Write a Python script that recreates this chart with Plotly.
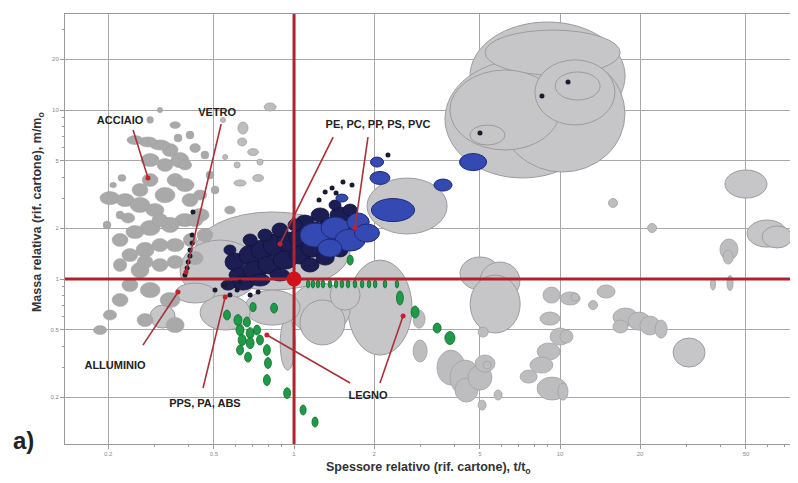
import plotly.graph_objects as go

# ---------------- DATA (log10 of relative thickness / relative mass) ----------------
# large gray property envelopes: centre log t, centre log m, width (decades), height (decades)
big_lt = [0.953, 0.859, 1.009, 0.972, 0.793, 1.056, 1.066, 0.727, 0.425, -0.081, -0.278,
          0.323, 0.098, 0.107, -0.024, -0.081, 0.192, -0.259, -0.494, -0.372,
          0.699, 0.774, 0.756, 1.699, 1.778, 1.816, 1.485]
big_lm = [1.201, 0.947, 0.979, 1.340, 1.000, 1.104, 1.142, 0.852, 0.432, 0.166, 0.053,
          -0.169, -0.178, -0.257, -0.382, -0.169, -0.095, -0.198, -0.222, -0.083,
          0.033, -0.012, -0.148, 0.562, 0.269, 0.249, -0.435]
big_wt = [0.583, 0.583, 0.470, 0.508, 0.414, 0.301, 0.169, 0.132, 0.301, 0.583, 0.301,
          0.241, 0.226, 0.169, 0.056, 0.207, 0.113, 0.188, 0.094, 0.150,
          0.150, 0.150, 0.188, 0.158, 0.150, 0.113, 0.120]
big_wm = [0.639, 0.698, 0.692, 0.266, 0.473, 0.385, 0.166, 0.118, 0.331, 0.462, 0.355,
          0.562, 0.308, 0.266, 0.314, 0.207, 0.178, 0.207, 0.136, 0.118,
          0.195, 0.225, 0.343, 0.166, 0.160, 0.130, 0.172]

# smaller gray envelopes
sm_lt = [0.470, 0.474, 0.590, 0.643, 0.648, 0.699, 0.718, 0.711, 0.726, 0.767, 0.707,
         0.962, 1.000, 0.957, 0.930, 0.882, 0.970, 0.968, 1.038, 1.056, 1.124, 1.173,
         1.246, 1.297, 1.338, 1.380, 1.227, 1.024, 1.011, 1.635, 1.632, 1.199, 1.346,
         1.575, 1.639, -0.090, -0.192, -0.195, -0.154, -0.135, -0.203, -0.214, -0.128,
         -0.259, -0.267]
sm_lm = [-0.237, -0.426, -0.524, -0.583, -0.657, -0.583, -0.500, -0.314, -0.509, -0.686, -0.746,
         -0.234, -0.340, -0.429, -0.509, -0.577, -0.648, -0.095, -0.115, -0.107, -0.154, -0.074,
         -0.225, -0.249, -0.275, -0.296, -0.281, -0.340, -0.666, 0.175, 0.130, 0.450, 0.302,
         -0.030, -0.024, 1.018, 0.893, 0.811, 0.751, 0.598, 0.568, 0.675, 0.692,
         0.722, 0.941]
sm_wt = [0.045, 0.053, 0.105, 0.113, 0.086, 0.090, 0.075, 0.038, 0.030, 0.030, 0.030,
         0.075, 0.075, 0.086, 0.086, 0.064, 0.113, 0.064, 0.075, 0.030, 0.034, 0.068,
         0.094, 0.083, 0.075, 0.045, 0.056, 0.049, 0.038, 0.068, 0.038, 0.034, 0.034,
         0.019, 0.023, 0.045, 0.038, 0.034, 0.041, 0.041, 0.045, 0.023, 0.023,
         0.019, 0.019]
sm_wm = [0.107, 0.130, 0.207, 0.207, 0.142, 0.148, 0.101, 0.059, 0.047, 0.059, 0.059,
         0.077, 0.101, 0.101, 0.095, 0.077, 0.136, 0.095, 0.077, 0.047, 0.053, 0.077,
         0.107, 0.107, 0.112, 0.107, 0.077, 0.077, 0.101, 0.124, 0.083, 0.053, 0.053,
         0.071, 0.089, 0.047, 0.071, 0.047, 0.041, 0.041, 0.036, 0.036, 0.036,
         0.030, 0.030]

# steel / aluminium cluster (left)
st_lt = [-0.692, -0.635, -0.579, -0.523, -0.485, -0.447, -0.410, -0.429, -0.466, -0.504, -0.549,
         -0.598, -0.541, -0.485, -0.391, -0.353, -0.410, -0.466, -0.541, -0.598, -0.654, -0.617,
         -0.560, -0.504, -0.447, -0.391, -0.335, -0.654, -0.579, -0.504, -0.447, -0.372, -0.617,
         -0.541, -0.466, -0.654, -0.692, -0.560, -0.447, -0.729, -0.241, -0.297, -0.647, -0.680,
         -0.447, -0.436, -0.335, -0.391, -0.316, -0.654, -0.703, -0.541, -0.504,
         -0.541, -0.579, -0.504, -0.372, -0.353, -0.410, -0.372, -0.624, -0.560]
st_lm = [0.479, 0.467, 0.438, 0.408, 0.497, 0.586, 0.556, 0.704, 0.763, 0.793, 0.811,
         0.822, 0.704, 0.675, 0.467, 0.379, 0.349, 0.320, 0.302, 0.278, 0.231, 0.142,
         0.172, 0.201, 0.201, 0.231, 0.260, 0.083, 0.053, 0.083, 0.101, 0.124, -0.036,
         -0.065, -0.124, -0.124, -0.213, -0.243, -0.272, -0.302, 0.408, 0.527, 0.598, 0.556,
         0.911, 0.834, 0.734, 0.852, 0.615, 0.379, 0.320, 0.941, 1.000,
         0.586, 0.527, 0.349, 0.349, 0.497, 0.675, 0.775, 0.361, 0.101]
st_wt = [0.075, 0.068, 0.075, 0.068, 0.075, 0.060, 0.068, 0.068, 0.060, 0.075, 0.068,
         0.060, 0.068, 0.060, 0.060, 0.068, 0.075, 0.068, 0.075, 0.068, 0.060, 0.060,
         0.068, 0.060, 0.068, 0.050, 0.060, 0.050, 0.068, 0.060, 0.060, 0.060, 0.060,
         0.075, 0.075, 0.060, 0.050, 0.060, 0.068, 0.050, 0.040, 0.030, 0.030, 0.025,
         0.040, 0.030, 0.030, 0.030, 0.030, 0.030, 0.030, 0.025, 0.020,
         0.060, 0.060, 0.060, 0.060, 0.050, 0.050, 0.040, 0.050, 0.060]
st_wm = [0.077, 0.077, 0.090, 0.077, 0.090, 0.077, 0.077, 0.090, 0.077, 0.060, 0.060,
         0.053, 0.077, 0.077, 0.077, 0.077, 0.077, 0.090, 0.090, 0.077, 0.077, 0.077,
         0.090, 0.077, 0.077, 0.077, 0.077, 0.077, 0.090, 0.077, 0.077, 0.077, 0.077,
         0.090, 0.090, 0.077, 0.060, 0.077, 0.090, 0.053, 0.047, 0.047, 0.040, 0.032,
         0.040, 0.047, 0.047, 0.047, 0.047, 0.047, 0.047, 0.040, 0.032,
         0.077, 0.077, 0.077, 0.077, 0.060, 0.060, 0.053, 0.060, 0.077]

# polymers (navy)
nv_lt = [-0.222, -0.165, -0.120, -0.071, -0.023, 0.023, -0.203, -0.147, -0.090, -0.034, 0.023,
         0.068, 0.117, 0.079, 0.135, 0.173, 0.098, 0.041, 0.004, -0.053, -0.109, -0.165,
         -0.241, -0.192, -0.248, -0.128, -0.053, 0.060, 0.117, 0.173, 0.192, 0.229, 0.211, 0.154]
nv_lm = [0.101, 0.142, 0.172, 0.201, 0.219, 0.243, 0.024, 0.053, 0.083, 0.112, 0.142,
         0.183, 0.231, 0.290, 0.320, 0.379, 0.379, 0.337, 0.320, 0.290, 0.260, 0.231,
         0.172, -0.024, -0.036, -0.006, 0.024, 0.083, 0.124, 0.172, 0.260, 0.302, 0.408, 0.438]
nv_wt = [0.075, 0.083, 0.083, 0.090, 0.083, 0.083, 0.083, 0.090, 0.090, 0.090, 0.083,
         0.083, 0.083, 0.075, 0.075, 0.075, 0.068, 0.068, 0.053, 0.060, 0.053, 0.053,
         0.045, 0.083, 0.053, 0.075, 0.075, 0.068, 0.068, 0.060, 0.068, 0.060, 0.053, 0.045]
nv_wm = [0.107, 0.118, 0.118, 0.130, 0.118, 0.118, 0.083, 0.107, 0.107, 0.107, 0.107,
         0.107, 0.107, 0.095, 0.095, 0.095, 0.083, 0.083, 0.071, 0.083, 0.071, 0.071,
         0.059, 0.083, 0.059, 0.071, 0.071, 0.083, 0.083, 0.083, 0.083, 0.071, 0.071, 0.059]

# polymers (blue)
bl_lt = [0.079, 0.154, 0.211, 0.241, 0.135, 0.274, 0.372, 0.312, 0.323, 0.673, 0.560, 0.180]
bl_lm = [0.260, 0.302, 0.231, 0.337, 0.183, 0.272, 0.408, 0.692, 0.598, 0.692, 0.556, 0.479]
bl_wt = [0.113, 0.105, 0.113, 0.083, 0.090, 0.094, 0.162, 0.049, 0.075, 0.102, 0.068, 0.045]
bl_wm = [0.142, 0.130, 0.130, 0.107, 0.107, 0.107, 0.136, 0.059, 0.077, 0.101, 0.071, 0.047]

# wood (green)
gr_lt = [-0.252, -0.211, -0.203, -0.177, -0.165, -0.195, -0.165, -0.139, -0.128, -0.203, -0.173,
         -0.102, -0.098, -0.102, -0.026, 0.034, 0.079, -0.075, -0.154, 0.398, 0.455, 0.538,
         0.586, 0.211, 0.053, 0.071, 0.090, 0.109, 0.135, 0.158, 0.180, 0.203, 0.229, 0.256,
         0.282, 0.305, 0.342, 0.387]
gr_lm = [-0.213, -0.243, -0.302, -0.254, -0.320, -0.361, -0.379, -0.302, -0.361, -0.420, -0.462,
         -0.420, -0.497, -0.598, -0.675, -0.775, -0.846, -0.172, -0.166, -0.112, -0.195, -0.290,
         -0.349, 0.112, -0.030, -0.030, -0.030, -0.030, -0.030, -0.030, -0.030, -0.030, -0.030,
         -0.030, -0.030, -0.030, -0.030, -0.030]
gr_wt = [0.026, 0.030, 0.030, 0.026, 0.030, 0.030, 0.030, 0.026, 0.026, 0.026, 0.026,
         0.026, 0.026, 0.026, 0.026, 0.023, 0.023, 0.026, 0.023, 0.026, 0.030, 0.030,
         0.038, 0.023, 0.013, 0.013, 0.013, 0.013, 0.013, 0.013, 0.013, 0.013, 0.013, 0.013,
         0.013, 0.013, 0.013, 0.013]
gr_wm = [0.059, 0.065, 0.065, 0.059, 0.065, 0.065, 0.065, 0.059, 0.059, 0.059, 0.059,
         0.065, 0.065, 0.065, 0.065, 0.059, 0.059, 0.059, 0.053, 0.083, 0.071, 0.059,
         0.077, 0.059, 0.047, 0.047, 0.047, 0.047, 0.047, 0.047, 0.047, 0.047, 0.047, 0.047,
         0.047, 0.047, 0.047, 0.047]

# small dark points (glass, polymers, ceramics)
dot_lt = [0.353, 0.143, 0.184, 0.158, 0.117, 0.094, 0.218, -0.297, -0.259, -0.241, -0.214, -0.165,
          -0.203, -0.135, 1.030, 0.932, 0.699,
          -0.380, -0.383, -0.383, -0.391, -0.391, -0.398, -0.402, -0.410]
dot_lm = [0.734, 0.538, 0.574, 0.509, 0.515, 0.467, 0.556, -0.065, -0.036, -0.095, -0.065, -0.095,
          -0.018, -0.077, 1.166, 1.083, 0.864,
          0.396, 0.260, 0.213, 0.172, 0.136, 0.101, 0.065, 0.024]

# labels and pointers
lab_text = ["ACCIAIO", "VETRO", "PE, PC, PP, PS, PVC", "ALLUMINIO", "PPS, PA, ABS", "LEGNO"]
lab_lt = [-0.654, -0.289, 0.316, -0.673, -0.335, 0.278]
lab_lm = [0.935, 0.982, 0.911, -0.515, -0.740, -0.692]
ptr_lt0 = [-0.605, -0.274, 0.147, 0.278, -0.568, -0.342, 0.211, 0.323]
ptr_lm0 = [0.882, 0.917, 0.840, 0.840, -0.391, -0.645, -0.615, -0.615]
ptr_lt1 = [-0.549, -0.406, -0.053, 0.229, -0.436, -0.259, -0.102, 0.410]
ptr_lm1 = [0.598, 0.041, 0.207, 0.302, -0.077, -0.107, -0.331, -0.219]

x_ticks = [0.2, 0.5, 1, 2, 5, 10, 20, 50]
y_ticks = [0.2, 0.5, 1, 2, 5, 10, 20]
x_minor = [0.3, 0.4, 0.6, 0.7, 0.8, 0.9, 3, 4, 6, 7, 8, 9, 30, 40, 60, 70]
y_minor = [0.3, 0.4, 0.6, 0.7, 0.8, 0.9, 3, 4, 6, 7, 8, 9, 30]

# ---------------- FIGURE ----------------
shapes = []


def add_ellipses(lt, lm, wt, wm, fill, line, lw):
    for a, b, w, h in zip(lt, lm, wt, wm):
        shapes.append(dict(type="circle", xref="x", yref="y", layer="between",
                           x0=10 ** (a - w / 2), x1=10 ** (a + w / 2),
                           y0=10 ** (b - h / 2), y1=10 ** (b + h / 2),
                           fillcolor=fill, line=dict(color=line, width=lw)))


add_ellipses(big_lt, big_lm, big_wt, big_wm, "#c6c6c8", "#9c9c9c", 1)
add_ellipses(sm_lt, sm_lm, sm_wt, sm_wm, "#bdbdbf", "#a2a2a2", 0.8)
add_ellipses(st_lt, st_lm, st_wt, st_wm, "#a9a9a9", "#a0a0a0", 0.5)
add_ellipses(nv_lt, nv_lm, nv_wt, nv_wm, "#1c1d52", "#10113a", 0.8)
add_ellipses(bl_lt, bl_lm, bl_wt, bl_wm, "#3449b2", "#1d2a78", 1)
add_ellipses(gr_lt, gr_lm, gr_wt, gr_wm, "#1f9a47", "#126b2e", 0.8)

fig = go.Figure()

RED = "#b0232b"
X_RANGE = [-0.861, 1.887]
Y_RANGE = [-0.976, 1.568]
# reference cross at (1, 1)
fig.add_trace(go.Scatter(x=[10 ** X_RANGE[0], 10 ** X_RANGE[1]], y=[1, 1], mode="lines",
                         line=dict(color=RED, width=3), hoverinfo="skip", showlegend=False))
fig.add_trace(go.Scatter(x=[1, 1], y=[10 ** Y_RANGE[0], 10 ** Y_RANGE[1]], mode="lines",
                         line=dict(color=RED, width=3), hoverinfo="skip", showlegend=False))
fig.add_trace(go.Scatter(x=[1], y=[1], mode="markers",
                         marker=dict(color="#d0141e", size=15), hoverinfo="skip", showlegend=False))

# small dark points
fig.add_trace(go.Scatter(x=[10 ** v for v in dot_lt], y=[10 ** v for v in dot_lm], mode="markers",
                         marker=dict(color="#1a1a30", size=5), hoverinfo="skip", showlegend=False))

# pointer lines
px, py = [], []
for a0, b0, a1, b1 in zip(ptr_lt0, ptr_lm0, ptr_lt1, ptr_lm1):
    px += [10 ** a0, 10 ** a1, None]
    py += [10 ** b0, 10 ** b1, None]
fig.add_trace(go.Scatter(x=px, y=py, mode="lines", line=dict(color="#a8323a", width=1.6),
                         hoverinfo="skip", showlegend=False))
fig.add_trace(go.Scatter(x=[10 ** v for v in ptr_lt1], y=[10 ** v for v in ptr_lm1], mode="markers",
                         marker=dict(color="#c8202a", size=5), hoverinfo="skip", showlegend=False))

# labels
fig.add_trace(go.Scatter(x=[10 ** v for v in lab_lt], y=[10 ** v for v in lab_lm], mode="text",
                         text=["<b>%s</b>" % t for t in lab_text],
                         textfont=dict(family="Liberation Sans, Arial", size=11, color="#222222"),
                         hoverinfo="skip", showlegend=False))

axis_common = dict(type="log", showgrid=True, gridcolor="#a8a8a8", gridwidth=1,
                   showline=True, linecolor="#9a9a9a", linewidth=1, mirror=True,
                   ticks="outside", ticklen=4, tickcolor="#9a9a9a",
                   tickfont=dict(size=6, color="#8a8a8a", family="Liberation Sans, Arial"),
                   zeroline=False)

# the page body adds an 8px offset, so the figure is drawn 8px smaller
fig.update_layout(
    width=790, height=475,
    margin=dict(l=57, r=2, t=6, b=39),
    paper_bgcolor="white", plot_bgcolor="white",
    shapes=shapes,
    xaxis=dict(range=X_RANGE, tickvals=x_ticks, ticktext=[str(v) for v in x_ticks],
               minor=dict(tickvals=x_minor, ticks="outside", ticklen=2, tickcolor="#9a9a9a",
                          showgrid=False), **axis_common),
    yaxis=dict(range=Y_RANGE, tickvals=y_ticks, ticktext=[str(v) for v in y_ticks],
               minor=dict(tickvals=y_minor, ticks="outside", ticklen=2, tickcolor="#9a9a9a",
                          showgrid=False), **axis_common),
    annotations=[
        dict(text="<b>Spessore relativo (rif. cartone), t/t<sub>o</sub></b>", xref="paper", yref="paper",
             x=0.4966, y=-0.0558, xanchor="center", yanchor="middle", showarrow=False,
             font=dict(size=12.5, color="#333333", family="Liberation Sans, Arial")),
        dict(text="<b>Massa relativa (rif. cartone), m/m<sub>o</sub></b>", xref="paper", yref="paper",
             x=-0.0369, y=0.5395, xanchor="center", yanchor="middle", textangle=-90, showarrow=False,
             font=dict(size=12.5, color="#333333", family="Liberation Sans, Arial")),
        dict(text="<b>a)</b>", xref="paper", yref="paper", x=-0.0561, y=0.0093,
             xanchor="center", yanchor="middle",
             showarrow=False, font=dict(size=24, color="#222222", family="Liberation Sans, Arial")),
    ],
)

fig.write_html("out.html")
